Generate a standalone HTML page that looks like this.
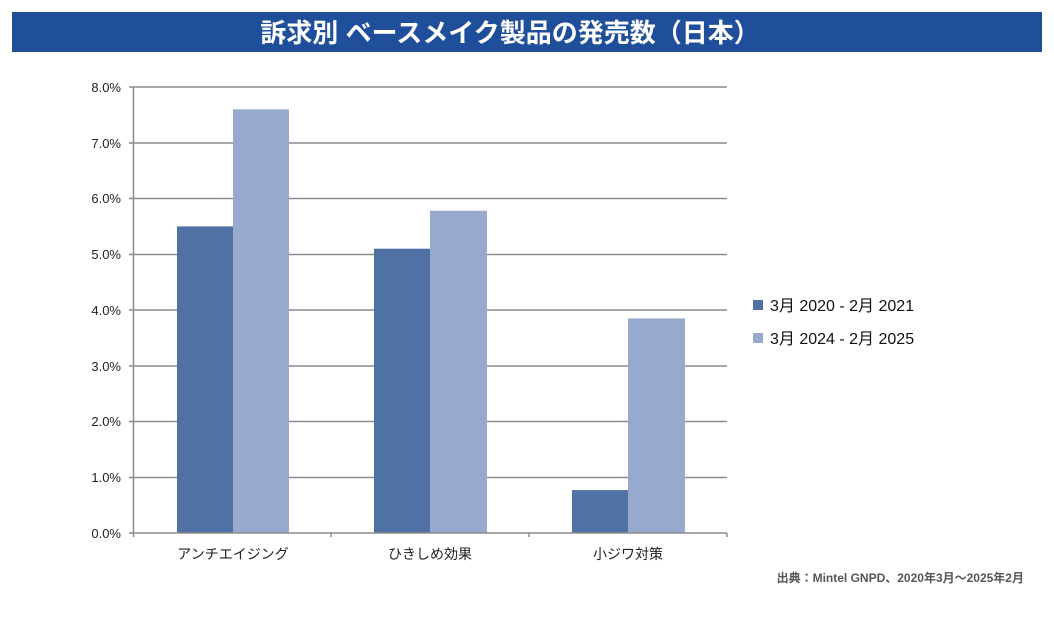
<!DOCTYPE html>
<html><head><meta charset="utf-8"><style>
body{margin:0;background:#fff;width:1054px;height:620px;overflow:hidden;font-family:"Liberation Sans","Noto Sans CJK JP",sans-serif}
</style></head><body>
<svg width="1054" height="620" xmlns="http://www.w3.org/2000/svg" style="position:absolute;left:0;top:0">
<rect x="12" y="12" width="1030" height="40" fill="#1f4e9b"/>
<text x="510" y="42" text-anchor="middle" font-size="26" font-weight="bold" fill="#fff" font-family="Liberation Sans,Noto Sans CJK JP,sans-serif">訴求別 ベースメイク製品の発売数（日本）</text>
<g stroke="#8c8c8c" stroke-width="1.5">
<line x1="129" y1="87" x2="727" y2="87"/>
<line x1="129" y1="143" x2="727" y2="143"/>
<line x1="129" y1="198.5" x2="727" y2="198.5"/>
<line x1="129" y1="254.5" x2="727" y2="254.5"/>
<line x1="129" y1="310" x2="727" y2="310"/>
<line x1="129" y1="366" x2="727" y2="366"/>
<line x1="129" y1="421.5" x2="727" y2="421.5"/>
<line x1="129" y1="477.5" x2="727" y2="477.5"/>
</g>
<g fill="#4f71a4">
<rect x="177" y="226.4" width="56" height="306.6"/>
<rect x="374" y="248.7" width="56" height="284.3"/>
<rect x="572" y="490.1" width="56" height="42.9"/>
</g>
<g fill="#97aacd">
<rect x="233" y="109.3" width="56" height="423.7"/>
<rect x="430" y="210.8" width="57" height="322.2"/>
<rect x="628" y="318.4" width="57" height="214.6"/>
</g>
<g stroke="#8c8c8c" stroke-width="1.5">
<line x1="133.5" y1="87" x2="133.5" y2="537"/>
<line x1="129" y1="533" x2="727" y2="533"/>
<line x1="331" y1="533" x2="331" y2="537"/>
<line x1="529" y1="533" x2="529" y2="537"/>
<line x1="727" y1="533" x2="727" y2="537"/>
</g>
<g font-size="13" fill="#222" text-anchor="end">
<text x="121" y="92">8.0%</text><text x="121" y="148">7.0%</text><text x="121" y="203">6.0%</text><text x="121" y="259">5.0%</text><text x="121" y="315">4.0%</text><text x="121" y="371">3.0%</text><text x="121" y="426">2.0%</text><text x="121" y="482">1.0%</text><text x="121" y="538">0.0%</text>
</g>
<g font-size="14" fill="#222" text-anchor="middle">
<text x="233" y="559">アンチエイジング</text><text x="430" y="559">ひきしめ効果</text><text x="628" y="559">小ジワ対策</text>
</g>
<rect x="753" y="300" width="10" height="10" fill="#4f71a4"/>
<rect x="753" y="333" width="10" height="10" fill="#97aacd"/>
<g font-size="16" fill="#111">
<text x="770" y="311">3月 2020 - 2月 2021</text>
<text x="770" y="344">3月 2024 - 2月 2025</text>
</g>
<text x="1024" y="582" text-anchor="end" font-size="12" font-weight="bold" fill="#555">出典：Mintel GNPD、2020年3月～2025年2月</text>
</svg>
</body></html>
